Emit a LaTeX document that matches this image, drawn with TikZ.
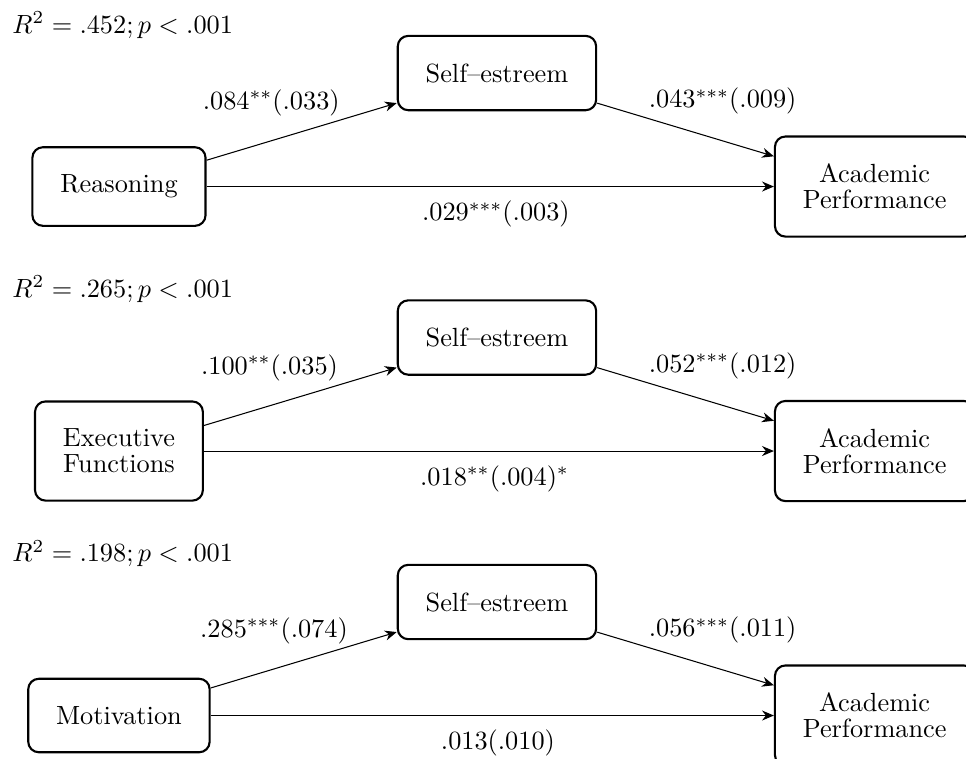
\documentclass[tikz,border=0pt]{standalone}
\usetikzlibrary{arrows.meta}

\begin{document}
\begin{tikzpicture}[
    varbox/.style={draw, thick, rounded corners=4pt, align=center, font={\fontsize{10}{9.8}\selectfont}, inner xsep=10.6pt, inner ysep=10.5pt},
    effect/.style={-{Stealth[length=4.5pt, width=3.8pt]}}
  ]
    % 画像の範囲を固定 (元の図と同じ縦横比)
    \useasboundingbox (0,0) rectangle (12.911,-10.144);

    % 1段目: Reasoning -> Self-estreem -> Academic Performance
    \node[anchor=base west, inner sep=0pt] (fit1) at (0.16,-0.441) {$R^2 = .452; p < .001$};
    \node[varbox] (reason) at (1.590,-2.493) {Reasoning};
    \node[varbox] (self1) at (6.642,-0.976) {Self--estreem};
    \node[varbox] (perf1) at (11.690,-2.493) {Academic\\Performance};

    % 矢印と係数
    \draw[effect] (reason) -- (self1) node[pos=0.34, above=6pt] {$.084^{**}(.033)$};
    \draw[effect] (self1) -- (perf1) node[pos=0.71, above=6.5pt] {$.043^{***}(.009)$};
    \draw[effect] (reason) -- (perf1) node[pos=0.51, below=2pt] {$.029^{***}(.003)$};

    % 2段目: Executive Functions (3.535 下へずらす)
    \node[anchor=base west, inner sep=0pt] (fit2) at (0.16,-3.976) {$R^2 = .265; p < .001$};
    \node[varbox] (exec) at (1.590,-6.028) {Executive\\Functions};
    \node[varbox] (self2) at (6.642,-4.511) {Self--estreem};
    \node[varbox] (perf2) at (11.690,-6.028) {Academic\\Performance};

    % 矢印と係数
    \draw[effect] (exec) -- (self2) node[pos=0.34, above=6pt] {$.100^{**}(.035)$};
    \draw[effect] (self2) -- (perf2) node[pos=0.71, above=6.5pt] {$.052^{***}(.012)$};
    \draw[effect] (exec) -- (perf2) node[pos=0.51, below=2pt] {$.018^{**}(.004)^{*}$};

    % 3段目: Motivation (さらに 3.535 下へ)
    \node[anchor=base west, inner sep=0pt] (fit3) at (0.16,-7.511) {$R^2 = .198; p < .001$};
    \node[varbox] (motiv) at (1.590,-9.563) {Motivation};
    \node[varbox] (self3) at (6.642,-8.046) {Self--estreem};
    \node[varbox] (perf3) at (11.690,-9.563) {Academic\\Performance};

    % 矢印と係数
    \draw[effect] (motiv) -- (self3) node[pos=0.34, above=6pt] {$.285^{***}(.074)$};
    \draw[effect] (self3) -- (perf3) node[pos=0.71, above=6.5pt] {$.056^{***}(.011)$};
    \draw[effect] (motiv) -- (perf3) node[pos=0.51, below=2pt] {$.013(.010)$};
\end{tikzpicture}
\end{document}
